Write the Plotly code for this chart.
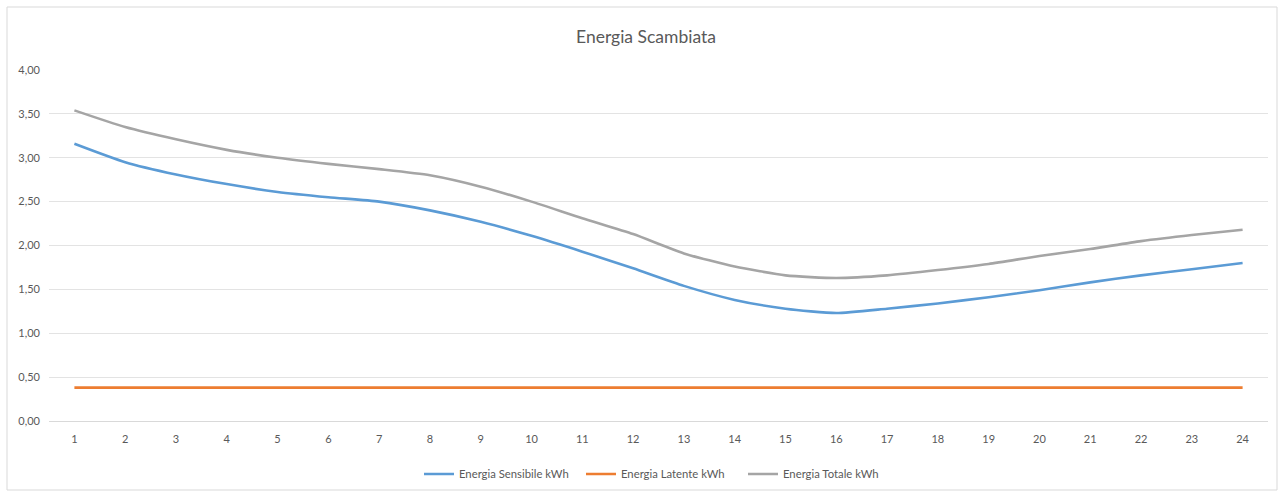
import plotly.graph_objects as go

hours = list(range(1, 25))
sensibile = [3.16, 2.95, 2.81, 2.70, 2.61, 2.55, 2.50, 2.40, 2.27, 2.11, 1.93, 1.74,
             1.54, 1.38, 1.28, 1.23, 1.28, 1.34, 1.41, 1.49, 1.58, 1.66, 1.73, 1.80]
latente = [0.38] * 24
totale = [3.54, 3.35, 3.21, 3.09, 3.00, 2.93, 2.87, 2.80, 2.67, 2.50, 2.31, 2.13,
          1.91, 1.76, 1.66, 1.63, 1.66, 1.72, 1.79, 1.88, 1.96, 2.05, 2.12, 2.18]
y_ticks = [0, 0.5, 1, 1.5, 2, 2.5, 3, 3.5, 4]
y_tick_labels = ["0,00", "0,50", "1,00", "1,50", "2,00", "2,50", "3,00", "3,50", "4,00"]

FONT = "Lato, 'Open Sans', sans-serif"
TXT = "#595959"

fig = go.Figure()
series = [
    ("Energia Sensibile kWh", sensibile, "#5B9BD5"),
    ("Energia Latente kWh", latente, "#ED7D31"),
    ("Energia Totale kWh", totale, "#A5A5A5"),
]
for name, vals, col in series:
    fig.add_trace(go.Scatter(
        x=hours, y=vals, name=name, mode="lines",
        line=dict(color=col, width=2.6, shape="spline", smoothing=0.6),
        hoverinfo="skip",
    ))

W, H = 1284, 495
L, R, T, B = 49, 16, 70, 74
pw, ph = W - L - R, H - T - B

def px_x(p):
    return (p - L) / pw

def px_y(p):
    return (H - B - p) / ph

fig.add_shape(type="rect", xref="paper", yref="paper",
              x0=px_x(7), x1=px_x(1277), y0=px_y(490), y1=px_y(7),
              line=dict(color="#D9D9D9", width=1), fillcolor="rgba(0,0,0,0)", layer="below")

fig.update_layout(
    width=W, height=H,
    margin=dict(l=L, r=R, t=T, b=B, autoexpand=False),
    paper_bgcolor="white", plot_bgcolor="white",
    font=dict(family=FONT, color=TXT, size=11),
    title=dict(text="Energia Scambiata", x=px_x(646), xanchor="center", xref="paper",
               y=1 - 37 / H, yanchor="middle",
               font=dict(family=FONT, size=17.5, color=TXT)),
    xaxis=dict(
        range=[0.5, 24.5], tickmode="array", tickvals=hours,
        ticktext=[str(h) for h in hours],
        showgrid=False, zeroline=False, showline=True, linecolor="#D9D9D9", linewidth=1,
        ticks="", tickfont=dict(size=11, color=TXT, family=FONT), ticklabelstandoff=8,
        fixedrange=True, automargin=False,
    ),
    yaxis=dict(
        range=[0, 4], tickmode="array", tickvals=y_ticks, ticktext=y_tick_labels,
        showgrid=True, gridcolor="#E3E3E3", gridwidth=1, zeroline=False, showline=False,
        ticks="", tickfont=dict(size=11, color=TXT, family=FONT), ticklabelstandoff=8,
        fixedrange=True, automargin=False,
    ),
    legend=dict(orientation="h", x=px_x(419), xanchor="left", y=px_y(474), yanchor="middle",
                font=dict(size=11.3, color=TXT, family=FONT), itemwidth=30,
                entrywidth=117, entrywidthmode="pixels",
                bgcolor="rgba(0,0,0,0)"),
    hovermode=False,
    showlegend=True,
)

fig.write_html("out.html", config={"displayModeBar": False},
               post_script="document.body.style.margin='0';document.body.style.padding='0';")
